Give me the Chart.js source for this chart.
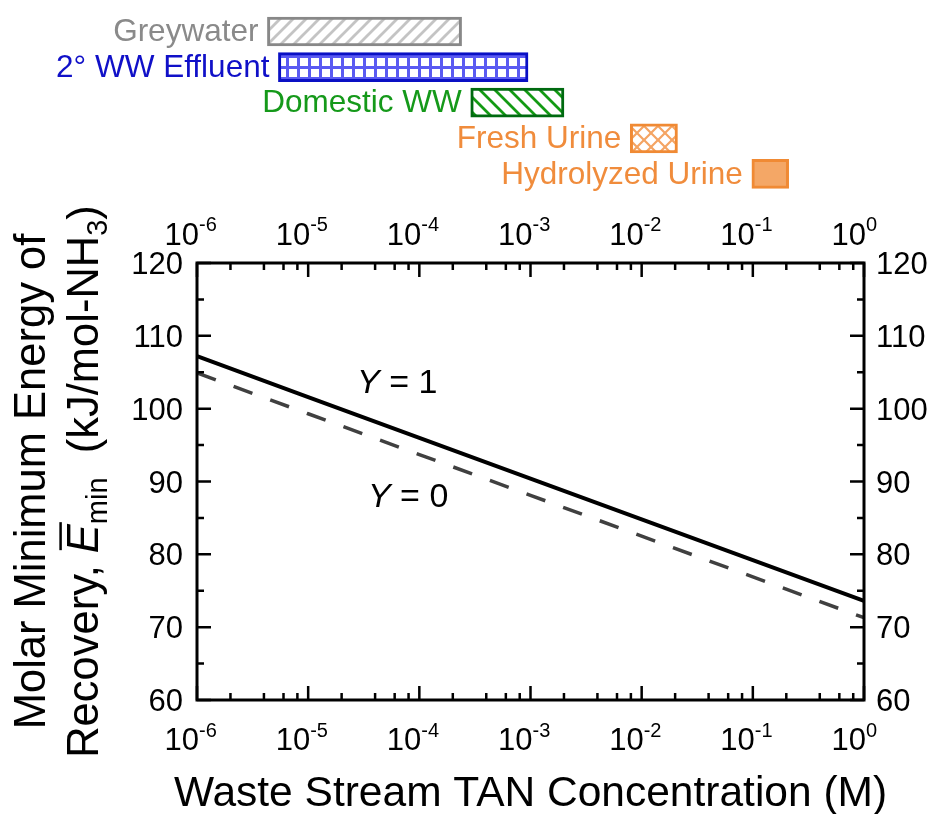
<!DOCTYPE html>
<html>
<head>
<meta charset="utf-8">
<script src="https://cdn.jsdelivr.net/npm/chart.js@4.4.1/dist/chart.umd.min.js"></script>
<style>
  html, body { margin: 0; padding: 0; background: #fff; }
  #wrap { position: relative; width: 932px; height: 814px; }
  #wrap canvas { position: absolute; left: 0; top: 0; }
</style>
</head>
<body>
<div id="wrap">
  <canvas id="main" width="932" height="814"></canvas>
  <canvas id="streams" width="932" height="200"></canvas>
</div>
<script>
// TAN concentration (M), one point per decade
const concentration = [1e-6, 1e-5, 1e-4, 1e-3, 1e-2, 1e-1, 1]
const energyY1 = [107.2, 101.6, 96.0, 90.4, 84.8, 79.2, 73.6]
const energyY0 = [104.9, 99.3, 93.7, 88.1, 82.5, 76.9, 71.3]

const xExponents = [-6, -5, -4, -3, -2, -1, 0]
const yTicks = [60, 70, 80, 90, 100, 110, 120]

// concentration range of each waste stream (M)
const streamNames = ["Greywater", "2° WW Effluent", "Domestic WW", "Fresh Urine", "Hydrolyzed Urine"]
const streamLow = [4.3e-6, 5.4e-6, 2.9e-4, 7.9e-3, 0.098]
const streamHigh = [2.4e-4, 9.5e-4, 2.0e-3, 2.1e-2, 0.21]

// curve labels, placed in data units
const curveLabels = ["1", "0"]
const curveLabelX = [2.75e-5, 3.45e-5]
const curveLabelY = [102.2, 86.5]

const FONT = '"Liberation Sans", Arial, sans-serif'

function makePattern(size, draw) {
  const c = document.createElement("canvas")
  c.width = size
  c.height = size
  const g = c.getContext("2d")
  g.fillStyle = "#fff"
  g.fillRect(0, 0, size, size)
  draw(g, size)
  return document.getElementById("streams").getContext("2d").createPattern(c, "repeat")
}

function slash(g, s) {
  g.beginPath()
  g.moveTo(0, s); g.lineTo(s, 0)
  g.moveTo(-2, 2); g.lineTo(2, -2)
  g.moveTo(s - 2, s + 2); g.lineTo(s + 2, s - 2)
  g.stroke()
}

function backslash(g, s) {
  g.beginPath()
  g.moveTo(0, 0); g.lineTo(s, s)
  g.moveTo(-2, s - 2); g.lineTo(2, s + 2)
  g.moveTo(s - 2, -2); g.lineTo(s + 2, 2)
  g.stroke()
}

const greyFill = makePattern(13, (g, s) => {
  g.strokeStyle = "#c4c4c4"
  g.lineWidth = 2.8
  slash(g, s)
})
const gridFill = makePattern(11, (g, s) => {
  g.fillStyle = "#5a5af2"
  g.fillRect(0, 0, s, 3)
  g.fillRect(0, 0, 3, s)
})
const domesticFill = makePattern(15, (g, s) => {
  g.strokeStyle = "#139a13"
  g.lineWidth = 2.8
  backslash(g, s)
})
const freshFill = makePattern(14, (g, s) => {
  g.strokeStyle = "#f4a463"
  g.lineWidth = 2.2
  slash(g, s)
  backslash(g, s)
})

const streamFills = [greyFill, gridFill, domesticFill, freshFill, "#f4a766"]
const streamBorders = ["#888888", "#0a10c4", "#006a10", "#f08a34", "#f08a34"]
const streamText = ["#8a8a8a", "#1010c8", "#15991a", "#f08c3c", "#f08c3c"]

const streamLabels = {
  id: "streamLabels",
  afterDatasetsDraw(chart) {
    const ctx = chart.ctx
    const meta = chart.getDatasetMeta(0)
    ctx.save()
    ctx.font = "31.5px " + FONT
    ctx.textAlign = "right"
    ctx.textBaseline = "middle"
    meta.data.forEach((bar, i) => {
      ctx.fillStyle = streamText[i]
      ctx.fillText(streamNames[i], Math.min(bar.x, bar.base) - 9, bar.y + 1)
    })
    ctx.restore()
  },
}

new Chart(document.getElementById("streams"), {
  type: "bar",
  data: {
    labels: streamNames,
    datasets: [
      {
        data: streamLow.map((lo, i) => [lo, streamHigh[i]]),
        backgroundColor: streamFills,
        borderColor: streamBorders,
        borderWidth: 3,
        borderSkipped: false,
        barThickness: 29,
      },
    ],
  },
  options: {
    indexAxis: "y",
    responsive: false,
    animation: false,
    layout: { padding: { left: 197, right: 68, top: 13.7, bottom: 8.3 }, autoPadding: false },
    plugins: { legend: { display: false }, tooltip: { enabled: false } },
    scales: {
      x: { type: "logarithmic", min: 1e-6, max: 1, display: false },
      y: { display: false },
    },
  },
  plugins: [streamLabels],
})

// draws text made of runs: {t, size, italic, dy, over}
function drawRuns(ctx, runs, x, y, align) {
  const widths = runs.map((r) => {
    ctx.font = (r.italic ? "italic " : "") + r.size + "px " + FONT
    return ctx.measureText(r.t).width
  })
  const total = widths.reduce((a, b) => a + b, 0)
  let cx = align === "center" ? x - total / 2 : x
  runs.forEach((r, i) => {
    ctx.font = (r.italic ? "italic " : "") + r.size + "px " + FONT
    ctx.fillText(r.t, cx, y + (r.dy || 0))
    if (r.over) {
      ctx.save()
      ctx.lineWidth = 2.5
      ctx.beginPath()
      ctx.moveTo(cx + 3, y - r.size * 0.86)
      ctx.lineTo(cx + widths[i] + 2, y - r.size * 0.86)
      ctx.stroke()
      ctx.restore()
    }
    cx += widths[i]
  })
}

const frame = {
  id: "frame",
  afterDraw(chart) {
    const ctx = chart.ctx
    const { left, right, top, bottom } = chart.chartArea
    const xs = chart.scales.x
    const ys = chart.scales.y
    ctx.save()
    ctx.strokeStyle = "#000"
    ctx.fillStyle = "#000"

    // inward ticks on all four sides
    ctx.lineWidth = 2.5
    ctx.beginPath()
    xExponents.forEach((e, i) => {
      const px = xs.getPixelForValue(Math.pow(10, e))
      ctx.moveTo(px, bottom); ctx.lineTo(px, bottom - 14)
      ctx.moveTo(px, top); ctx.lineTo(px, top + 14)
      if (i < xExponents.length - 1) {
        ;[2, 4, 6, 8].forEach((m) => {
          const mx = xs.getPixelForValue(m * Math.pow(10, e))
          ctx.moveTo(mx, bottom); ctx.lineTo(mx, bottom - 7)
          ctx.moveTo(mx, top); ctx.lineTo(mx, top + 7)
        })
      }
    })
    yTicks.forEach((v, i) => {
      const py = ys.getPixelForValue(v)
      ctx.moveTo(left, py); ctx.lineTo(left + 14, py)
      ctx.moveTo(right, py); ctx.lineTo(right - 14, py)
      if (i < yTicks.length - 1) {
        const my = ys.getPixelForValue(v + 5)
        ctx.moveTo(left, my); ctx.lineTo(left + 7, my)
        ctx.moveTo(right, my); ctx.lineTo(right - 7, my)
      }
    })
    ctx.stroke()

    ctx.lineWidth = 3
    ctx.strokeRect(left, top, right - left, bottom - top)

    // tick labels
    ctx.textBaseline = "alphabetic"
    ctx.textAlign = "left"
    xExponents.forEach((e) => {
      const px = xs.getPixelForValue(Math.pow(10, e))
      ctx.font = "31px " + FONT
      const w10 = ctx.measureText("10").width
      const sx = px - w10 + 2
      ;[[750, 737], [245, 231]].forEach(([base, supBase]) => {
        ctx.font = "31px " + FONT
        ctx.fillText("10", sx, base)
        ctx.font = "20px " + FONT
        ctx.fillText(String(e), sx + w10, supBase)
      })
    })
    ctx.font = "31px " + FONT
    yTicks.forEach((v) => {
      const py = ys.getPixelForValue(v)
      ctx.textAlign = "right"
      ctx.fillText(String(v), left - 14, py + 11)
      ctx.textAlign = "left"
      ctx.fillText(String(v), right + 12, py + 11)
    })

    // axis titles
    ctx.textAlign = "left"
    drawRuns(ctx, [{ t: "Waste Stream TAN Concentration (M)", size: 42.5 }], (left + right) / 2, 806, "center")

    const midY = (top + bottom) / 2
    ctx.save()
    ctx.translate(45, midY)
    ctx.rotate(-Math.PI / 2)
    drawRuns(ctx, [{ t: "Molar Minimum Energy of", size: 43.5 }], 0, 0, "center")
    ctx.restore()
    ctx.save()
    ctx.translate(98, midY)
    ctx.rotate(-Math.PI / 2)
    drawRuns(
      ctx,
      [
        { t: "Recovery, ", size: 43.5 },
        { t: "E", size: 43.5, italic: true, over: true },
        { t: "min", size: 29, dy: 9 },
        { t: "  (kJ/mol-NH", size: 43.5 },
        { t: "3", size: 29, dy: 9 },
        { t: ")", size: 43.5 },
      ],
      0,
      0,
      "center"
    )
    ctx.restore()

    // curve labels
    curveLabels.forEach((lab, i) => {
      const px = xs.getPixelForValue(curveLabelX[i])
      const py = ys.getPixelForValue(curveLabelY[i])
      drawRuns(ctx, [{ t: "Y", size: 34, italic: true }, { t: " = " + lab, size: 34 }], px, py, "left")
    })
    ctx.restore()
  },
}

const hidden = { ticks: { display: false }, grid: { display: false }, border: { display: false } }

new Chart(document.getElementById("main"), {
  type: "line",
  data: {
    datasets: [
      {
        label: "Y = 1",
        data: concentration.map((c, i) => ({ x: c, y: energyY1[i] })),
        borderColor: "#000",
        borderWidth: 4,
        pointRadius: 0,
      },
      {
        label: "Y = 0",
        data: concentration.map((c, i) => ({ x: c, y: energyY0[i] })),
        borderColor: "#404040",
        borderWidth: 3.5,
        borderDash: [20, 19],
        pointRadius: 0,
      },
    ],
  },
  options: {
    responsive: false,
    animation: false,
    layout: { padding: 0, autoPadding: false },
    plugins: { legend: { display: false }, tooltip: { enabled: false } },
    scales: {
      x: { type: "logarithmic", position: "bottom", min: 1e-6, max: 1, ...hidden, afterFit: (s) => { s.height = 114 } },
      x2: { type: "logarithmic", axis: "x", position: "top", min: 1e-6, max: 1, ...hidden, afterFit: (s) => { s.height = 263 } },
      y: { type: "linear", position: "left", min: 60, max: 120, ...hidden, afterFit: (s) => { s.width = 197 } },
      y2: { type: "linear", axis: "y", position: "right", min: 60, max: 120, ...hidden, afterFit: (s) => { s.width = 68 } },
    },
  },
  plugins: [frame],
})
</script>
</body>
</html>
